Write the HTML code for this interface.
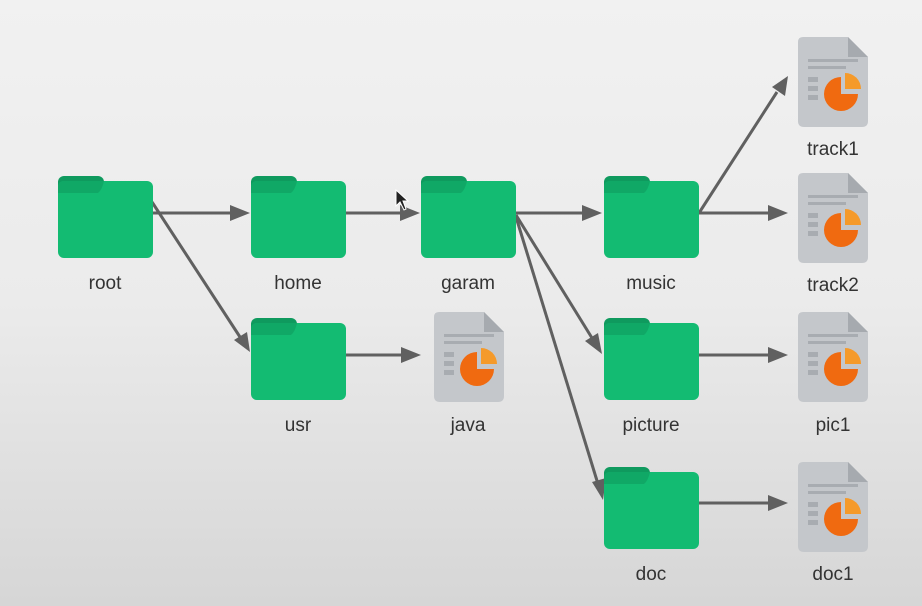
<!DOCTYPE html>
<html><head><style>
body{margin:0;width:922px;height:606px;overflow:hidden;background:linear-gradient(#f1f1f1,#ebebeb 50%,#d6d6d6);font-family:"Liberation Sans",sans-serif;}
svg{position:absolute;left:0;top:0}
text{font-family:"Liberation Sans",sans-serif;font-size:19px;fill:#333;text-anchor:middle}
</style></head><body>
<svg width="922" height="606" viewBox="0 0 922 606">
<defs>
<symbol id="fold" viewBox="0 0 95 82" width="95" height="82">
<rect x="0" y="0" width="46" height="24" rx="6" fill="#0f9a5e"/>
<rect x="0" y="5" width="95" height="77" rx="6" fill="#13bb72"/>
<path d="M6 5 H46 Q44 14 40 17 H0 V11 Q0 5 6 5Z" fill="#10a866"/>
</symbol>
<symbol id="file" viewBox="0 0 70 90" width="70" height="90">
<path d="M5 0 H50 L70 20 V84 Q70 90 64 90 H6 Q0 90 0 84 V5 Q0 0 5 0Z" fill="#c4c7cb"/>
<path d="M50 0 L70 20 H50Z" fill="#a6aaaf"/>
<rect x="10" y="22" width="50" height="3" fill="#a8acb1"/>
<rect x="10" y="29" width="38" height="3" fill="#a8acb1"/>
<rect x="10" y="40" width="10" height="5" fill="#a8acb1"/>
<rect x="10" y="49" width="10" height="5" fill="#a8acb1"/>
<rect x="10" y="58" width="10" height="5" fill="#a8acb1"/>
<path d="M43 40 A17 17 0 1 0 60 57 H43Z" fill="#f06a10"/>
<path d="M47 36 A16 16 0 0 1 63 52 H47Z" fill="#f59a2a"/>
</symbol>
</defs>
<g stroke="#606060" stroke-width="3" fill="none">
<line x1="152" y1="213" x2="232" y2="213"/>
<line x1="152" y1="202" x2="240" y2="337"/>
<line x1="346" y1="213" x2="404" y2="213"/>
<line x1="516" y1="213" x2="586" y2="213"/>
<line x1="516" y1="215" x2="592" y2="338"/>
<line x1="516" y1="217" x2="598" y2="484"/>
<line x1="699" y1="213" x2="777" y2="92"/>
<line x1="699" y1="213" x2="772" y2="213"/>
<line x1="346" y1="355" x2="405" y2="355"/>
<line x1="699" y1="355" x2="772" y2="355"/>
<line x1="699" y1="503" x2="772" y2="503"/>
</g>
<g fill="#606060">
<polygon points="250,213 230,205 230,221"/>
<polygon points="250,352 234,340 247,332"/>
<polygon points="420,213 400,205 400,221"/>
<polygon points="602,213 582,205 582,221"/>
<polygon points="602,354 585,341 598,333"/>
<polygon points="603,500 592,482 606,478"/>
<polygon points="788,76 772,87 785,96"/>
<polygon points="788,213 768,205 768,221"/>
<polygon points="421,355 401,347 401,363"/>
<polygon points="788,355 768,347 768,363"/>
<polygon points="788,503 768,495 768,511"/>
</g>
<use href="#fold" x="58" y="176"/>
<use href="#fold" x="251" y="176"/>
<use href="#fold" x="421" y="176"/>
<use href="#fold" x="604" y="176"/>
<use href="#fold" x="251" y="318"/>
<use href="#fold" x="604" y="318"/>
<use href="#fold" x="604" y="467"/>
<use href="#file" x="798" y="37"/>
<use href="#file" x="798" y="173"/>
<use href="#file" x="434" y="312"/>
<use href="#file" x="798" y="312"/>
<use href="#file" x="798" y="462"/>
<text x="105" y="289">root</text>
<text x="298" y="289">home</text>
<text x="468" y="289">garam</text>
<text x="651" y="289">music</text>
<text x="298" y="431">usr</text>
<text x="468" y="431">java</text>
<text x="651" y="431">picture</text>
<text x="833" y="431">pic1</text>
<text x="651" y="580">doc</text>
<text x="833" y="580">doc1</text>
<text x="833" y="155">track1</text>
<text x="833" y="291">track2</text>
<path d="M396 190 L396 206 L400 202 L404 210 L406 209 L403 201 L408 201Z" fill="#222" stroke="#fff" stroke-width="1"/>
</svg>
</body></html>
